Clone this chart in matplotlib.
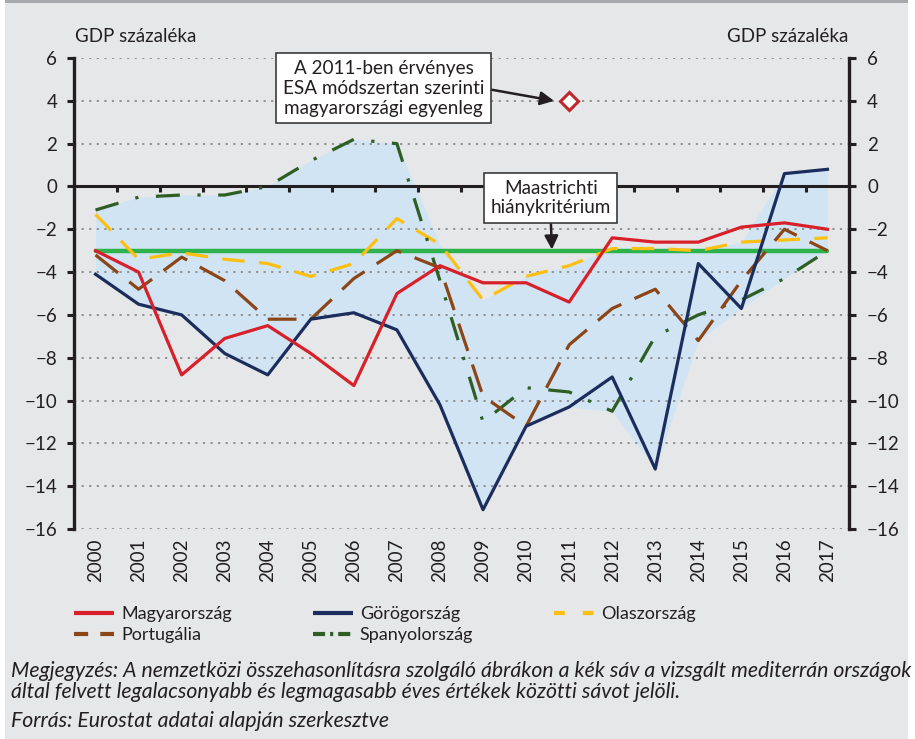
import matplotlib
matplotlib.use("Agg")
import matplotlib.pyplot as plt
from matplotlib.patches import Rectangle
from matplotlib.lines import Line2D
import numpy as np

plt.rcParams['font.family'] = ['Lato', 'DejaVu Sans']
plt.rcParams['axes.unicode_minus'] = True

# data (GDP %)
years = [str(y) for y in range(2000, 2018)]
hungary = [-3.0, -4.0, -8.8, -7.1, -6.5, -7.8, -9.3, -5.0, -3.7, -4.5,
           -4.5, -5.4, -2.4, -2.6, -2.6, -1.9, -1.7, -2.0]
greece = [-4.1, -5.5, -6.0, -7.8, -8.8, -6.2, -5.9, -6.7, -10.2, -15.1,
          -11.2, -10.3, -8.9, -13.2, -3.6, -5.7, 0.6, 0.8]
italy = [-1.3, -3.4, -3.1, -3.4, -3.6, -4.2, -3.6, -1.5, -2.7, -5.3,
         -4.2, -3.7, -2.9, -2.9, -3.0, -2.6, -2.5, -2.4]
portugal = [-3.2, -4.8, -3.3, -4.4, -6.2, -6.2, -4.3, -3.0, -3.8, -9.8,
            -11.2, -7.4, -5.7, -4.8, -7.2, -4.4, -2.0, -3.0]
spain = [-1.1, -0.5, -0.4, -0.4, 0.0, 1.2, 2.2, 2.0, -4.4, -11.0,
         -9.4, -9.6, -10.5, -7.0, -6.0, -5.3, -4.3, -3.0]
maastricht = [-3.0] * 18
esa_year = "2011"
esa_value = 4.0

med = np.array([greece, italy, portugal, spain])
band_lo = med.min(axis=0)
band_hi = med.max(axis=0)

W, H = 915, 739
fig = plt.figure(figsize=(W / 100, H / 100), dpi=100)
fig.patch.set_facecolor('white')
fig.patches.append(Rectangle((5 / W, 0), 903 / W, 1, transform=fig.transFigure,
                             fc='#e6e7e9', ec='none', zorder=-10))
fig.patches.append(Rectangle((5 / W, 1 - 3 / H), 903 / W, 3 / H, transform=fig.transFigure,
                             fc='#a7a9ac', ec='none', zorder=-9))

ax = fig.add_axes([74 / W, 1 - 529 / H, 775 / W, 471 / H])
ax.set_facecolor('none')
x = np.arange(len(years))

ax.fill_between(x, band_lo, band_hi, color='#d0e4f4', lw=0, zorder=0.4)

ax.set_ylim(-16, 6)
ax.set_xlim(-0.5, len(years) - 0.5)
ax.set_yticks(range(-16, 7, 2))
ax.set_axisbelow('line')
ax.yaxis.grid(True, color='#8a8a8a', lw=1.3, linestyle=(0, (1.2, 3.0)))
ax.axhline(0, color='#231f20', lw=2.2, zorder=1.8)
ax.vlines(x[1:] - 0.5, -0.28, 0, color='#231f20', lw=2.2, zorder=1.8)

ax.plot(x, maastricht, color='#2eb34c', lw=3.2, solid_capstyle='round', zorder=2)

lw = 2.3
colors = {'Magyarország': '#d7202a', 'Görögország': '#1b2d5c', 'Olaszország': '#fdbf12',
          'Portugália': '#8b4516', 'Spanyolország': '#2f5e24'}
ax.plot(x, hungary, color=colors['Magyarország'], lw=lw, zorder=4)
ax.plot(x, greece, color=colors['Görögország'], lw=lw, zorder=3.5)
ax.plot(x, italy, color=colors['Olaszország'], lw=lw, dashes=(7, 4.5),
        dash_capstyle='butt', zorder=3)
ax.plot(x, portugal, color=colors['Portugália'], lw=lw, dashes=(9, 4.5),
        dash_capstyle='butt', zorder=3.2)
ax.plot(x, spain, color=colors['Spanyolország'], lw=lw, dashes=(7.5, 5.5, 1, 5.5),
        dash_capstyle='butt', zorder=3.1)

ax.plot(years.index(esa_year), esa_value, marker='D', ms=9, mfc='white',
        mec='#c0272d', mew=2.2, ls='none', zorder=5)

tick_fs = 13.5
for s in ['top', 'bottom', 'right']:
    ax.spines[s].set_visible(False)
ax.spines['left'].set_linewidth(2.4)
ax.spines['left'].set_color('#231f20')
ax.tick_params(axis='y', direction='out', length=5, width=2.2, color='#231f20',
               labelsize=tick_fs, pad=7, labelcolor='#231f20')
ax.set_xticks(x)
ax.set_xticklabels(years, rotation=90)
ax.tick_params(axis='x', length=0, pad=7, labelsize=tick_fs, labelcolor='#231f20')

ax2 = ax.twinx()
ax2.set_ylim(ax.get_ylim())
ax2.set_yticks(range(-16, 7, 2))
for s in ['top', 'bottom', 'left']:
    ax2.spines[s].set_visible(False)
ax2.spines['right'].set_linewidth(2.4)
ax2.spines['right'].set_color('#231f20')
ax2.tick_params(axis='y', direction='out', length=5, width=2.2, color='#231f20',
                labelsize=tick_fs, pad=8, labelcolor='#231f20')

fig.text(75 / W, 1 - 37 / H, 'GDP százaléka', fontsize=13.5, color='#231f20',
         ha='left', va='center')
fig.text(848 / W, 1 - 37 / H, 'GDP százaléka', fontsize=13.5, color='#231f20',
         ha='right', va='center')

box = dict(boxstyle='square,pad=0.35', fc='white', ec='#3a3a3a', lw=1.2)
ax.annotate('A 2011-ben érvényes\nESA módszertan szerinti\nmagyarországi egyenleg',
            xy=(years.index(esa_year) - 0.35, esa_value), xytext=(6.69, 4.58),
            ha='center', va='center', fontsize=13.6, linespacing=1.2, bbox=box,
            color='#231f20', zorder=6,
            arrowprops=dict(arrowstyle='-|>,head_length=0.6,head_width=0.3', color='#231f20',
                            lw=1.8, relpos=(1, 0.5), shrinkA=0, shrinkB=0))
ax.annotate('Maastrichti\nhiánykritérium',
            xy=(10.6, -2.95), xytext=(10.57, -0.54),
            ha='center', va='center', fontsize=13.6, linespacing=1.15, bbox=box,
            color='#231f20', zorder=6,
            arrowprops=dict(arrowstyle='-|>,head_length=0.6,head_width=0.3', color='#231f20',
                            lw=1.8, relpos=(0.5, 0), shrinkA=0, shrinkB=0))

# legend handles with patterns sized for the short legend sample
leg_lw = 3.0
handle_dashes = {'Magyarország': None, 'Portugália': (3.4, 2.9),
                 'Görögország': None, 'Spanyolország': (2.9, 1.2, 0.75, 1.2),
                 'Olaszország': (2.6, 4.3)}
handles, labels = [], []
for name, dsh in handle_dashes.items():
    kw = dict(color=colors[name], lw=leg_lw, solid_capstyle='butt', dash_capstyle='butt')
    if dsh is not None:
        kw['dashes'] = dsh
    handles.append(Line2D([], [], **kw))
    labels.append(name)
fig.legend(handles, labels, ncol=3,
           loc='upper left', bbox_to_anchor=(74 / W, 1 - 606 / H),
           frameon=False, fontsize=13, handlelength=2.2, handletextpad=0.4,
           columnspacing=4.5, labelspacing=0.3, borderpad=0, borderaxespad=0,
           labelcolor='#231f20')

note = ('Megjegyzés: A nemzetközi összehasonlításra szolgáló ábrákon a kék sáv a vizsgált mediterrán országok\n'
        'által felvett legalacsonyabb és legmagasabb éves értékek közötti sávot jelöli.')
fig.text(11 / W, 1 - 681.5 / H, note, fontsize=15.3, style='italic', color='#231f20',
         ha='left', va='center', linespacing=1.08)
fig.text(11 / W, 1 - 721 / H, 'Forrás: Eurostat adatai alapján szerkesztve', fontsize=15.3,
         style='italic', color='#231f20', ha='left', va='center')

fig.savefig('out.png', dpi=100, facecolor=fig.get_facecolor())
